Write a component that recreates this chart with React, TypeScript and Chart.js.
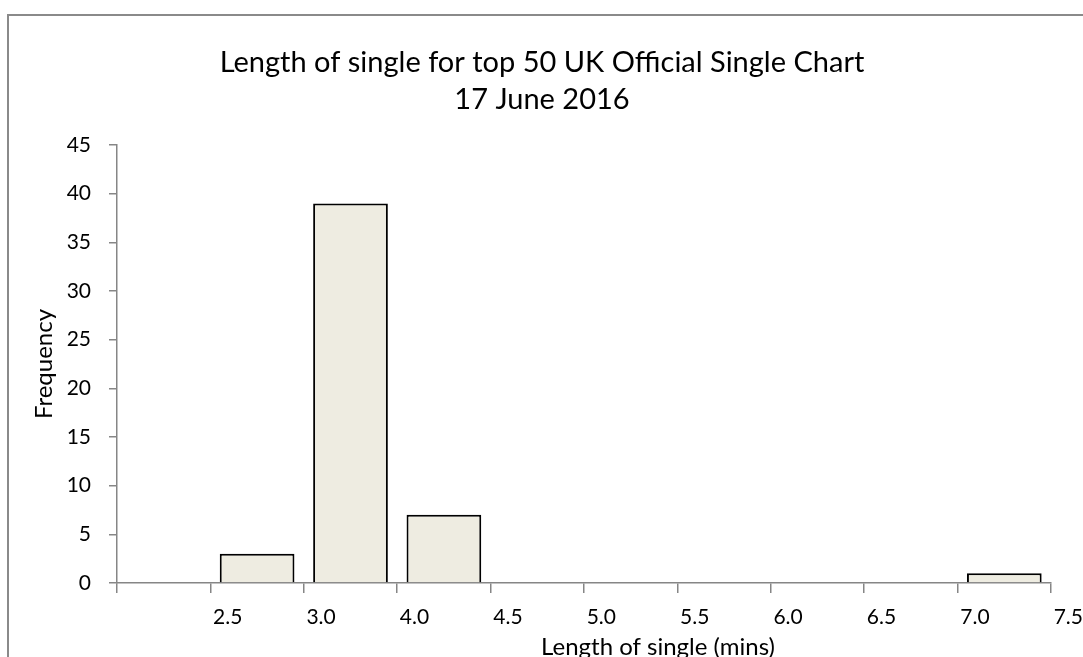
import { useEffect, useRef } from "react";
import { Chart, registerables } from "chart.js";

Chart.register(...registerables);

// ---- data ----
const categories = ["2.5", "3.0", "4.0", "4.5", "5.0", "5.5", "6.0", "6.5", "7.0", "7.5"];
const frequencies = [0, 3, 39, 7, 0, 0, 0, 0, 0, 1];
const yMin = 0;
const yMax = 45;
const yStep = 5;
const titleLines = ["Length of single for top 50 UK Official Single Chart", "17 June 2016"];
const xAxisTitle = "Length of single (mins)";
const yAxisTitle = "Frequency";

const FONT = "Lato, 'Open Sans', sans-serif";
const AXIS_GREY = "#868686";

const xTitlePlugin = {
  id: "xTitlePlugin",
  afterDraw(chart: any) {
    const { ctx, chartArea } = chart;
    ctx.save();
    ctx.font = `24px ${FONT}`;
    ctx.fillStyle = "#000";
    ctx.textAlign = "center";
    ctx.textBaseline = "alphabetic";
    const cx = (chartArea.left + chartArea.right) / 2 + 74;
    ctx.fillText(xAxisTitle, cx, chart.height - 2);
    ctx.restore();
  },
};

export default function App() {
  const ref = useRef<HTMLCanvasElement | null>(null);

  useEffect(() => {
    if (!ref.current) return;
    const chart = new Chart(ref.current, {
      type: "bar",
      data: {
        labels: categories,
        datasets: [
          {
            data: frequencies,
            backgroundColor: "#EEECE1",
            borderColor: "#000000",
            borderWidth: 2,
            barPercentage: 0.8,
            categoryPercentage: 1.0,
          },
        ],
      },
      options: {
        animation: false,
        responsive: false,
        devicePixelRatio: 1,
        layout: { padding: { left: 33, right: 32, top: 0, bottom: 0 } },
        plugins: {
          legend: { display: false },
          tooltip: { enabled: false },
          title: {
            display: true,
            text: titleLines,
            color: "#000",
            font: { family: FONT, size: 29, weight: "normal", lineHeight: 37 / 29 },
            padding: { top: 44, bottom: 27 },
          },
        },
        scales: {
          x: {
            type: "category",
            offset: true,
            z: 1,
            grid: {
              offset: true,
              drawOnChartArea: false,
              drawTicks: true,
              tickLength: 10,
              color: AXIS_GREY,
              lineWidth: 1.5,
            },
            border: { color: AXIS_GREY, width: 1.5 },
            ticks: {
              autoSkip: false,
              maxRotation: 0,
              minRotation: 0,
              labelOffset: 64,
              padding: 12,
              color: "#000",
              font: { family: FONT, size: 21 },
            },
            afterFit: (s: any) => {
              s.height = 74;
            },
          },
          y: {
            min: yMin,
            max: yMax,
            z: 1,
            ticks: {
              stepSize: yStep,
              padding: 18,
              color: "#000",
              font: { family: FONT, size: 21 },
            },
            grid: {
              drawOnChartArea: false,
              drawTicks: true,
              tickLength: 8,
              color: AXIS_GREY,
              lineWidth: 1.5,
            },
            border: { color: AXIS_GREY, width: 1.5 },
            title: {
              display: true,
              text: yAxisTitle,
              color: "#000",
              font: { family: FONT, size: 24, lineHeight: 0.9 },
              padding: { top: 0, bottom: 0 },
            },
            afterFit: (s: any) => {
              s.width = 84;
            },
          },
        },
      },
      plugins: [xTitlePlugin],
    });
    return () => chart.destroy();
  }, []);

  return (
    <div
      style={{
        position: "fixed",
        left: 0,
        top: 0,
        width: 1083,
        height: 657,
        overflow: "hidden",
        background: "#fff",
      }}
    >
      <div
        style={{
          position: "absolute",
          left: 7,
          top: 14,
          width: 1200,
          height: 800,
          border: "2px solid #8a8a8a",
          boxSizing: "border-box",
        }}
      />
      <canvas
        ref={ref}
        width={1083}
        height={657}
        style={{ position: "absolute", left: 0, top: 0, width: 1083, height: 657 }}
      />
    </div>
  );
}
